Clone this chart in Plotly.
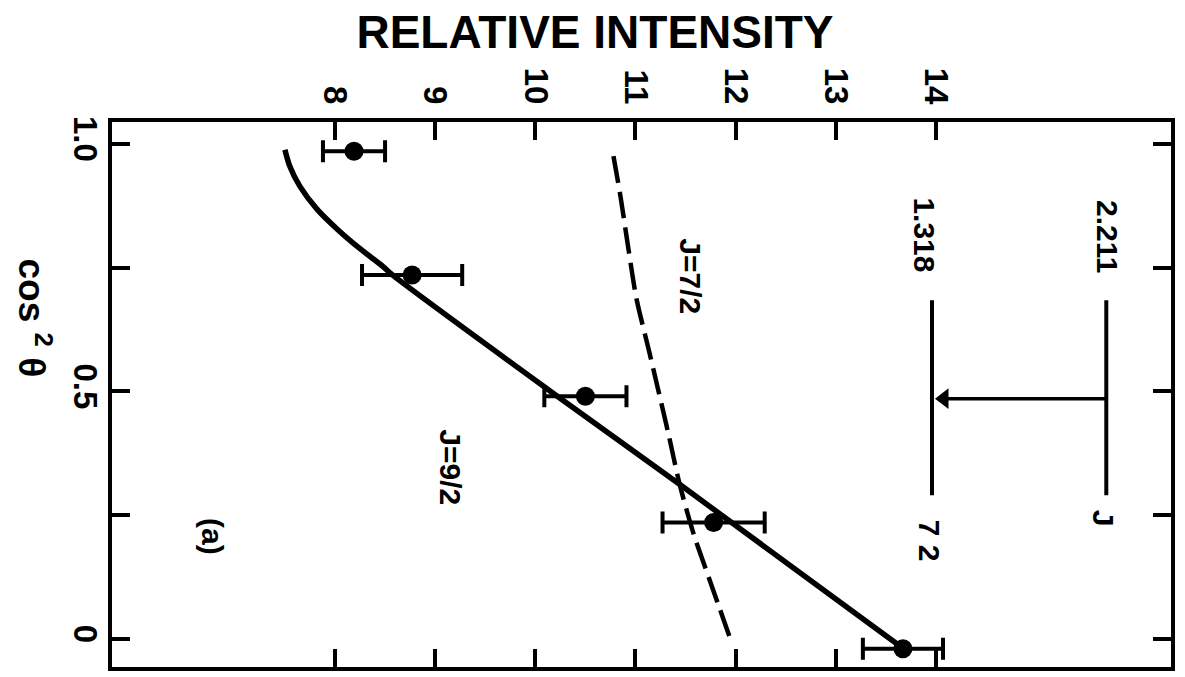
import plotly.graph_objects as go

# Measured points: cos^2(theta) vs relative intensity, with errors
cos2_pts = [0.985, 0.735, 0.49, 0.235, -0.02]
intensity_pts = [8.19, 8.77, 10.50, 11.78, 13.67]
intensity_err = [0.31, 0.50, 0.41, 0.51, 0.40]

# Theoretical angular-distribution curves
j92_cos2 = [0.988, 0.954, 0.914, 0.868, 0.828, 0.788, 0.752, 0.734, 0.5, 0.312, -0.019]
j92_int = [7.50, 7.55, 7.65, 7.82, 8.02, 8.25, 8.48, 8.58, 10.15, 11.44, 13.67]

j72_cos2 = [0.975, 0.894, 0.787, 0.687, 0.586, 0.5, 0.413, 0.313, 0.212, 0.119, -0.008]
j72_int = [10.78, 10.85, 10.93, 11.01, 11.13, 11.23, 11.33, 11.44, 11.58, 11.74, 11.96]

# Axis ticks
int_ticks = [8, 9, 10, 11, 12, 13, 14]
cos2_labeled = [0, 0.5, 1.0]
cos2_ticktext = ["0", "0.5", "1.0"]

# Level scheme inset (energies in MeV), drawn at these intensity positions
level_energy = ["2.211", "1.318"]
level_x = [15.70, 13.96]
level_cos2_span = [0.29, 0.684]
arrow_cos2 = 0.485
level_spin = ["J", "7 2"]

FONT = "Liberation Sans"
BLACK = "black"

fig = go.Figure()

fig.add_trace(go.Scatter(
    x=j92_int, y=j92_cos2, mode="lines",
    line=dict(color=BLACK, width=5.5, shape="spline", smoothing=0.8),
    hoverinfo="skip", showlegend=False))

fig.add_trace(go.Scatter(
    x=j72_int, y=j72_cos2, mode="lines",
    line=dict(color=BLACK, width=4.5, dash="27px,9px", shape="spline", smoothing=0.8),
    hoverinfo="skip", showlegend=False))

fig.add_trace(go.Scatter(
    x=intensity_pts, y=cos2_pts, mode="markers",
    marker=dict(color=BLACK, size=19),
    error_x=dict(type="data", array=intensity_err, color=BLACK, thickness=4, width=11),
    showlegend=False))

# Energy levels
for lx in level_x:
    fig.add_shape(type="line", xref="x", yref="y",
                  x0=lx, x1=lx, y0=level_cos2_span[0], y1=level_cos2_span[1],
                  line=dict(color=BLACK, width=4))

# Transition arrow from the upper to the lower level: shaft plus head
head_len = 0.12
fig.add_shape(type="line", xref="x", yref="y",
              x0=level_x[0], x1=level_x[1] + head_len, y0=arrow_cos2, y1=arrow_cos2,
              line=dict(color=BLACK, width=3.5))
fig.add_trace(go.Scatter(
    x=[level_x[1] + head_len], y=[arrow_cos2], mode="markers",
    marker=dict(symbol="triangle-left", size=18, color=BLACK),
    hoverinfo="skip", showlegend=False))

label_font = dict(family=FONT, size=33, color=BLACK, weight="bold")


def rot_label(text, x, y, size=30):
    fig.add_annotation(x=x, y=y, xref="x", yref="y", text=text, showarrow=False,
                       textangle=90, font=dict(family=FONT, size=size, color=BLACK, weight="bold"),
                       xanchor="center", yanchor="middle")


rot_label(level_energy[0], 15.71, 0.813)
rot_label(level_energy[1], 13.89, 0.815)
rot_label(level_spin[0], 15.68, 0.244)
rot_label(level_spin[1], 13.93, 0.198)
rot_label("J=9/2", 9.15, 0.346)
rot_label("J=7/2", 11.54, 0.733)
rot_label("(a)", 6.77, 0.206)

# Axis title for cos^2 theta
fig.add_annotation(x=-0.073, y=0.64, xref="paper", yref="paper",
                   text="cos <sup>2</sup> θ", showarrow=False, textangle=90,
                   font=dict(family=FONT, size=37, color=BLACK, weight="bold"),
                   xanchor="center", yanchor="middle")

tick_common = dict(ticks="inside", ticklen=18, tickwidth=3.5, tickcolor=BLACK,
                   tickangle=90, tickfont=label_font, mirror="allticks",
                   showline=True, linewidth=4, linecolor=BLACK,
                   showgrid=False, zeroline=False)

fig.update_layout(
    width=1185, height=677,
    margin=dict(l=112, r=14, t=122, b=6),
    paper_bgcolor="white", plot_bgcolor="white",
    title=dict(text="RELATIVE INTENSITY", x=595 / 1185, y=1 - 32 / 677,
               xanchor="center", yanchor="middle",
               font=dict(family=FONT, size=46, color=BLACK, weight="bold")),
    xaxis=dict(range=[5.774, 16.346], side="top", tickvals=int_ticks,
               ticklabelstandoff=2, **tick_common),
    yaxis=dict(range=[-0.057, 1.044], tickvals=cos2_labeled, ticktext=cos2_ticktext,
               ticklabelstandoff=-6,
               minor=dict(tickvals=[0.25, 0.75], ticks="inside", ticklen=18,
                          tickwidth=3.5, tickcolor=BLACK),
               **tick_common),
)

fig.write_html("out.html")
